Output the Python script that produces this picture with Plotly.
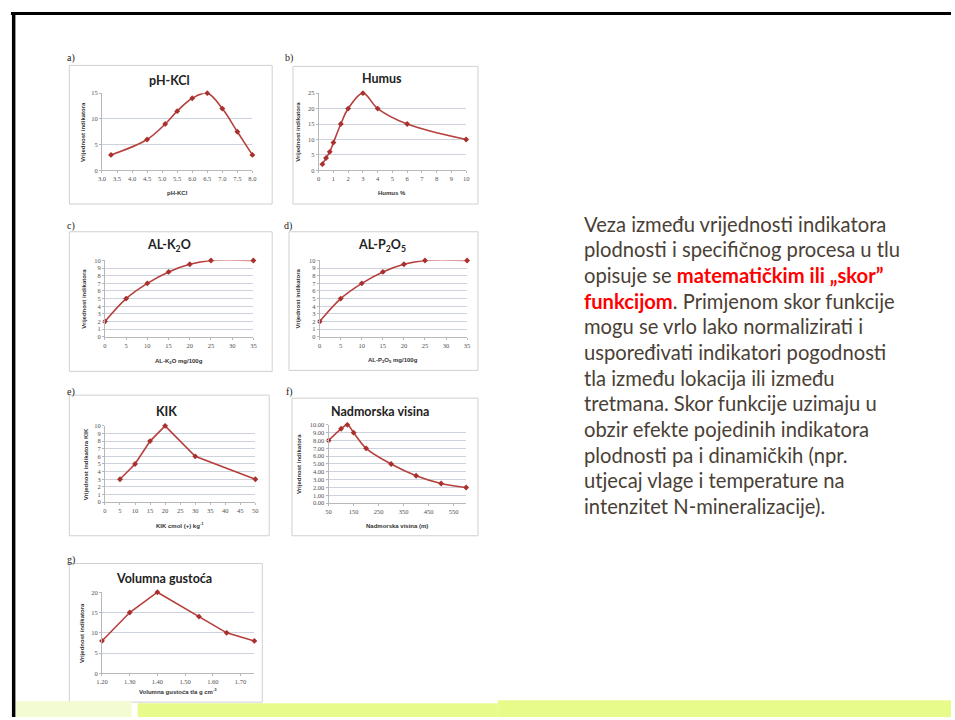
import plotly.graph_objects as go

W, H = 955, 720

# ---------------- data ----------------
ph_x = [3.3, 4.5, 5.1, 5.5, 6.0, 6.5, 7.0, 7.5, 8.0]
ph_y = [3, 6, 9, 11.5, 14, 15, 12, 7.5, 3]
humus_x = [0.25, 0.5, 0.75, 1, 1.5, 2, 3, 4, 6, 10]
humus_y = [2, 4, 6, 9, 15, 20, 25, 20, 15, 10]
k2o_x = [0, 5, 10, 15, 20, 25, 35]
k2o_y = [2, 5, 7, 8.5, 9.5, 10, 10]
p2o5_x = [0, 5, 10, 15, 20, 25, 35]
p2o5_y = [2, 5, 7, 8.5, 9.5, 10, 10]
kik_x = [5, 10, 15, 20, 30, 50]
kik_y = [3, 5, 8, 10, 6, 3]
alt_x = [50, 100, 125, 150, 200, 300, 400, 500, 600]
alt_y = [8, 9.5, 10, 9, 7, 5, 3.5, 2.5, 2]
bd_x = [1.20, 1.30, 1.40, 1.55, 1.65, 1.75]
bd_y = [8, 15, 20, 14, 10, 8]

text_lines = [
    "Veza između vrijednosti indikatora",
    "plodnosti i specifičnog procesa u tlu",
    "opisuje se <b><span style='color:#ff0000'>matematičkim ili „skor”</span></b>",
    "<b><span style='color:#ff0000'>funkcijom</span></b>. Primjenom skor funkcije",
    "mogu se vrlo lako normalizirati i",
    "uspoređivati indikatori pogodnosti",
    "tla između lokacija ili između",
    "tretmana. Skor funkcije uzimaju u",
    "obzir efekte pojedinih indikatora",
    "plodnosti pa i dinamičkih (npr.",
    "utjecaj vlage i temperature na",
    "intenzitet N-mineralizacije).",
]

YT = "Vrijednost indikatora"
panels = [
    dict(lab="a)", x=ph_x, y=ph_y, title="pH-KCl", xt="pH-KCl", yt=YT, spline=True,
         xr=[3, 8], yr=[0, 15], x0=3, dx=0.5, y0=0, dy=5, xf=".1f", yf="",
         plot=(97, 249, 90, 168), frame=(64, 269, 62, 202), labpos=(66, 55),
         tpos=(165, 77), ytx=78, xty=191),
    dict(lab="b)", x=humus_x, y=humus_y, title="Humus", xt="Humus %", yt=YT, spline=True,
         xr=[0, 10], yr=[0, 25], x0=0, dx=1, y0=0, dy=5, xf="", yf="",
         plot=(316, 465, 90, 168), frame=(290, 477, 63, 202), labpos=(286, 55),
         tpos=(380, 75), ytx=295, xty=191),
    dict(lab="c)", x=k2o_x, y=k2o_y, title="AL-K<sub>2</sub>O", xt="AL-K<sub>2</sub>O mg/100g", yt=YT,
         spline=True, xr=[0, 35], yr=[0, 10], x0=0, dx=5, y0=0, dy=1, xf="", yf="",
         plot=(100, 250, 259, 336), frame=(64, 269, 230, 371), labpos=(66, 224),
         tpos=(165, 244), ytx=78, xty=361),
    dict(lab="d)", x=p2o5_x, y=p2o5_y, title="AL-P<sub>2</sub>O<sub>5</sub>",
         xt="AL-P<sub>2</sub>O<sub>5</sub> mg/100g", yt=YT, spline=True,
         xr=[0, 35], yr=[0, 10], x0=0, dx=5, y0=0, dy=1, xf="", yf="",
         plot=(317, 466, 259, 336), frame=(286, 477, 230, 370), labpos=(285, 224),
         tpos=(380, 244), ytx=295, xty=360),
    dict(lab="e)", x=kik_x, y=kik_y, title="KIK", xt="KIK cmol (+) kg<sup>-1</sup>",
         yt="Vrijednost indikatora KIK", spline=False,
         xr=[0, 50], yr=[0, 10], x0=0, dx=5, y0=0, dy=1, xf="", yf="",
         plot=(100, 252, 426, 503), frame=(64, 266, 395, 537), labpos=(66, 392),
         tpos=(162, 412), ytx=81, xty=526),
    dict(lab="f)", x=alt_x, y=alt_y, title="Nadmorska visina", xt="Nadmorska visina (m)", yt=YT,
         spline=True, xr=[50, 600], yr=[0, 10], x0=50, dx=100, y0=0, dy=1, xf="", yf=".2f",
         plot=(326, 465, 425, 504), frame=(289, 477, 398, 537), labpos=(287, 392),
         tpos=(378, 412), ytx=296, xty=527),
    dict(lab="g)", x=bd_x, y=bd_y, title="Volumna gustoća", xt="Volumna gustoća tla g cm<sup>-3</sup>",
         yt=YT, spline=False, xr=[1.2, 1.75], yr=[0, 20], x0=1.2, dx=0.1, y0=0, dy=5,
         xf=".2f", yf="", plot=(97, 251, 594, 676), frame=(64, 259, 565, 705),
         labpos=(66, 561), tpos=(160, 580), ytx=77, xty=694),
]

LINE = "#b5403d"
GRID = "#cdd3dc"
TICK = dict(family="Liberation Serif", size=6.5, color="#505050")


def px(x):
    return x / W


def py(y):
    return 1 - y / H


fig = go.Figure()
annotations = []
shapes = []
layout = {}

for i, p in enumerate(panels, start=1):
    sx = "" if i == 1 else str(i)
    fig.add_trace(go.Scatter(
        x=p["x"], y=p["y"], xaxis="x" + sx, yaxis="y" + sx, mode="lines+markers",
        line=dict(color=LINE, width=1.6, shape="spline" if p["spline"] else "linear",
                  smoothing=1.0),
        marker=dict(symbol="diamond", size=4.5, color="#a8302e"),
        cliponaxis=False, showlegend=False, hoverinfo="x+y"))
    x0, x1, yt0, yb0 = p["plot"]
    layout["xaxis" + sx] = dict(
        domain=[px(x0), px(x1)], anchor="y" + sx, range=p["xr"], tick0=p["x0"], dtick=p["dx"],
        tickformat=p["xf"], showgrid=False, zeroline=False, showline=True, linecolor="#b8b8b8",
        linewidth=1, ticks="outside", ticklen=2, tickcolor="#b8b8b8", tickfont=TICK,
        fixedrange=True)
    layout["yaxis" + sx] = dict(
        domain=[py(yb0), py(yt0)], anchor="x" + sx, range=p["yr"], tick0=p["y0"], dtick=p["dy"],
        tickformat=p["yf"], showgrid=True, gridcolor=GRID, gridwidth=1, zeroline=False,
        showline=True, linecolor="#b8b8b8", linewidth=1, ticks="outside", ticklen=2,
        tickcolor="#b8b8b8", tickfont=TICK, fixedrange=True)
    fx0, fx1, fy0, fy1 = p["frame"]
    shapes.append(dict(type="rect", xref="paper", yref="paper", x0=px(fx0), x1=px(fx1),
                       y0=py(fy1), y1=py(fy0), line=dict(color="#d0d0d0", width=1),
                       fillcolor="rgba(0,0,0,0)", layer="below"))
    annotations.append(dict(text=p["lab"], x=px(p["labpos"][0]), y=py(p["labpos"][1]),
                            xref="paper", yref="paper", showarrow=False, xanchor="center",
                            yanchor="middle", font=dict(family="Liberation Serif", size=10,
                                                        color="#222222")))
    annotations.append(dict(text="<b>" + p["title"] + "</b>", x=px(p["tpos"][0]), y=py(p["tpos"][1]),
                            xref="paper", yref="paper", showarrow=False, xanchor="center",
                            yanchor="middle", font=dict(family="Lato", size=12.5, color="#222222")))
    annotations.append(dict(text="<b>" + p["xt"] + "</b>", x=px((x0 + x1) / 2), y=py(p["xty"]),
                            xref="paper", yref="paper", showarrow=False, xanchor="center",
                            yanchor="middle", font=dict(family="Liberation Sans", size=6,
                                                        color="#333333")))
    annotations.append(dict(text="<b>" + p["yt"] + "</b>", x=px(p["ytx"]), y=py((yt0 + yb0) / 2),
                            xref="paper", yref="paper", showarrow=False, textangle=-90,
                            xanchor="center", yanchor="middle",
                            font=dict(family="Liberation Sans", size=6, color="#333333")))

# right-hand text block
for k, line in enumerate(text_lines):
    annotations.append(dict(text=line, x=px(582), y=py(222 + k * 25.9), xref="paper", yref="paper",
                            showarrow=False, xanchor="left", yanchor="middle",
                            font=dict(family="Lato", size=20.2, color="#4a3f36")))

# slide decorations
shapes += [
    dict(type="rect", xref="paper", yref="paper", x0=px(5), x1=px(955), y0=py(11), y1=py(8),
         line=dict(width=0), fillcolor="#000000"),
    dict(type="rect", xref="paper", yref="paper", x0=px(6), x1=px(9.5), y0=py(720), y1=py(8),
         line=dict(width=0), fillcolor="#000000"),
    dict(type="rect", xref="paper", yref="paper", x0=px(10), x1=px(127), y0=py(720), y1=py(704),
         line=dict(width=0), fillcolor="#f3fbd2", layer="below"),
    dict(type="rect", xref="paper", yref="paper", x0=px(133), x1=px(497), y0=py(720), y1=py(706),
         line=dict(width=0), fillcolor="#e7fb8a", layer="below"),
    dict(type="rect", xref="paper", yref="paper", x0=px(497), x1=px(955), y0=py(720), y1=py(703),
         line=dict(width=0), fillcolor="#e7fb8a", layer="below"),
]

fig.update_layout(
    width=W, height=H, autosize=False, margin=dict(l=0, r=0, t=0, b=0),
    paper_bgcolor="white", plot_bgcolor="white", annotations=annotations, shapes=shapes,
    **layout)

fig.write_html("out.html", config={"displayModeBar": False, "staticPlot": True},
               post_script="document.body.style.margin='0';document.body.style.overflow='hidden';")
